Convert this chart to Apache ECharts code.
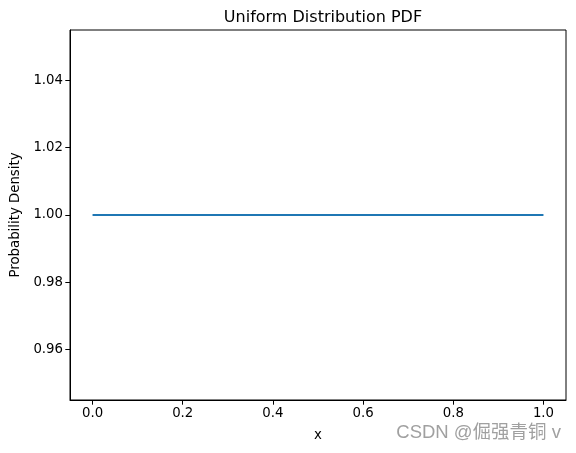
<!DOCTYPE html>
<html>
<head>
<meta charset="utf-8">
<script src="https://cdn.jsdelivr.net/npm/echarts@6/dist/echarts.min.js"></script>
<style>html,body{margin:0;padding:0;background:#fff;}#c{width:576px;height:453px;}</style>
</head>
<body>
<div id="c"></div>
<script>
var xValues = [0, 1];
var pdfValues = [1, 1];
var xTicks = [0, 0.2, 0.4, 0.6, 0.8, 1.0];
var yTicks = [0.96, 0.98, 1.00, 1.02, 1.04];

var chart = echarts.init(document.getElementById('c'), null, {renderer: 'canvas'});
var font = 'DejaVu Sans';
chart.setOption({
  animation: false,
  backgroundColor: '#fff',
  title: {
    text: 'Uniform Distribution PDF',
    left: 318, top: 5, textAlign: 'center',
    textStyle: {fontFamily: font, fontSize: 16, fontWeight: 'normal', color: '#000'}
  },
  grid: {left: 70, top: 30, right: 10, bottom: 53, containLabel: false, outerBoundsMode: 'none',
    show: true, borderColor: '#000', borderWidth: 1, backgroundColor: 'transparent'},
  xAxis: {
    type: 'value', min: -0.05, max: 1.05,
    name: 'x', nameLocation: 'middle', nameGap: 29,
    nameTextStyle: {fontFamily: font, fontSize: 13.3, color: '#000'},
    axisLine: {show: true, onZero: false, lineStyle: {color: '#000', width: 1}},
    axisTick: {show: true, inside: false, length: 4.7, lineStyle: {color: '#000'}, customValues: xTicks},
    axisLabel: {fontFamily: font, fontSize: 13.3, color: '#000', margin: 7, customValues: xTicks,
      formatter: function (v) { return v.toFixed(1); }},
    splitLine: {show: false}
  },
  yAxis: {
    type: 'value', min: 0.945, max: 1.055,
    name: 'Probability Density', nameLocation: 'middle', nameGap: 48,
    nameTextStyle: {fontFamily: font, fontSize: 13.3, color: '#000'},
    axisLine: {show: true, onZero: false, lineStyle: {color: '#000', width: 1}},
    axisTick: {show: true, inside: false, length: 4.7, lineStyle: {color: '#000'}, customValues: yTicks},
    axisLabel: {fontFamily: font, fontSize: 13.3, color: '#000', margin: 7, customValues: yTicks,
      formatter: function (v) { return v.toFixed(2); }},
    splitLine: {show: false}
  },
  series: [{
    type: 'line',
    data: xValues.map(function (x, i) { return [x, pdfValues[i]]; }),
    showSymbol: false,
    lineStyle: {color: '#1f77b4', width: 2},
    itemStyle: {color: '#1f77b4'}
  }],
  graphic: [{
    type: 'text', right: 15, top: 424,
    style: {text: 'CSDN @倔强青铜 v', fontFamily: 'Liberation Sans, Noto Sans CJK SC', fontSize: 18.5, fill: '#a0a0a0'}
  }]
});
</script>
</body>
</html>
